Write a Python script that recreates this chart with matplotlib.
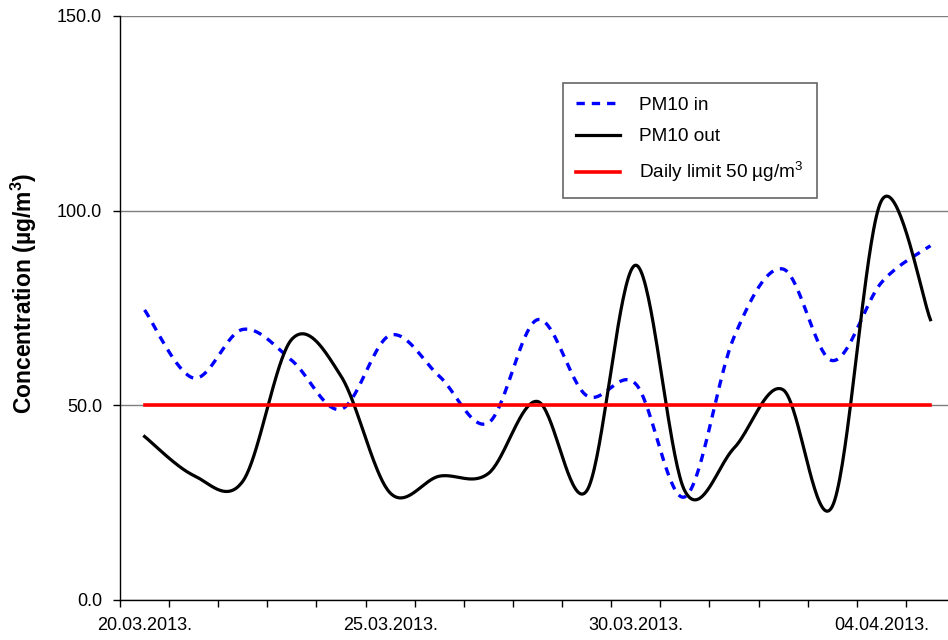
import numpy as np
import matplotlib
matplotlib.use("Agg")
import matplotlib.pyplot as plt
from matplotlib.ticker import FixedLocator, FixedFormatter, NullFormatter

plt.rcParams["font.family"] = ["Liberation Sans", "DejaVu Sans"]
plt.rcParams["mathtext.fontset"] = "custom"
plt.rcParams["mathtext.rm"] = "Liberation Sans"
plt.rcParams["mathtext.bf"] = "Liberation Sans:bold"
plt.rcParams["lines.scale_dashes"] = False

# Daily mean PM10 concentrations (µg/m3), 20.03.2013 - 05.04.2013
days = ["20.03.2013.", "21.03.2013.", "22.03.2013.", "23.03.2013.", "24.03.2013.",
        "25.03.2013.", "26.03.2013.", "27.03.2013.", "28.03.2013.", "29.03.2013.",
        "30.03.2013.", "31.03.2013.", "01.04.2013.", "02.04.2013.", "03.04.2013.",
        "04.04.2013.", "05.04.2013."]
pm10_in = [74.5, 57.0, 69.5, 61.5, 49.0, 68.0, 57.5, 45.5, 72.0, 52.5,
           55.5, 26.5, 67.5, 85.0, 61.5, 81.5, 91.0]
pm10_out = [42.0, 32.0, 30.5, 67.0, 57.5, 27.5, 31.8, 32.5, 51.0, 28.0,
            86.0, 28.0, 39.0, 54.0, 24.0, 102.5, 72.0]
daily_limit = [50.0] * len(days)
labelled_days = ["20.03.2013.", "25.03.2013.", "30.03.2013.", "04.04.2013."]


def smooth(xs, ys, n=40):
    """Smoothed line: cubic Bezier segments through every point, with
    control points taken from the neighbouring points (tension 1/6)."""
    pts = np.column_stack([xs, ys]).astype(float)
    ext = np.vstack([pts[0], pts, pts[-1]])
    t = np.linspace(0, 1, n)[1:, None]
    out = [pts[:1]]
    for i in range(len(pts) - 1):
        p0, p1, p2, p3 = ext[i], ext[i + 1], ext[i + 2], ext[i + 3]
        c1 = p1 + (p2 - p0) / 6.0
        c2 = p2 - (p3 - p1) / 6.0
        seg = ((1 - t) ** 3) * p1 + 3 * ((1 - t) ** 2) * t * c1 \
            + 3 * (1 - t) * (t ** 2) * c2 + (t ** 3) * p2
        out.append(seg)
    res = np.vstack(out)
    return res[:, 0], res[:, 1]


# categories sit between tick marks
xpos = np.arange(len(days)) + 0.5

fig = plt.figure(figsize=(9.48, 6.4), dpi=100)
ax = fig.add_axes([120 / 948, 40 / 640, 835 / 948, 584 / 640])

ax.yaxis.grid(True, color="#7f7f7f", lw=1.0, zorder=0)
ax.set_axisbelow(True)

sx, sy = smooth(xpos, pm10_in)
ax.plot(sx, sy, color="#0000ff", lw=2.4, linestyle=(0, (6.0, 5.0)),
        label="PM10 in", zorder=3)
sx, sy = smooth(xpos, pm10_out)
ax.plot(sx, sy, color="black", lw=2.3, label="PM10 out", zorder=4)
ax.plot(xpos, daily_limit, color="#ff0000", lw=2.6,
        label="Daily limit 50 µg/m$^{3}$", zorder=5)

ax.set_xlim(0, len(days))
ax.set_ylim(0, 150)

for side in ("top", "right"):
    ax.spines[side].set_visible(False)
for side in ("left", "bottom"):
    ax.spines[side].set_color("black")
    ax.spines[side].set_linewidth(1.0)

# day boundaries as tick marks, date labels centred under the days
ax.xaxis.set_major_locator(FixedLocator(np.arange(0, len(days) + 1)))
ax.xaxis.set_major_formatter(NullFormatter())
lab_pos = [days.index(d) + 0.5 for d in labelled_days]
ax.xaxis.set_minor_locator(FixedLocator(lab_pos))
ax.xaxis.set_minor_formatter(FixedFormatter(labelled_days))
ax.tick_params(axis="x", which="major", direction="out", length=5, width=1.0,
               color="black")
ax.tick_params(axis="x", which="minor", length=0, pad=12, labelsize=13)

ax.set_yticks([0, 50, 100, 150])
ax.set_yticklabels(["0.0", "50.0", "100.0", "150.0"])
ax.tick_params(axis="y", direction="out", length=5, width=1.0, pad=8,
               labelsize=13, color="black")

ax.set_ylabel("Concentration (µg/m$^{\\mathbf{3}}$)", fontsize=16.5,
              fontweight="bold")
ax.yaxis.set_label_coords((39 - 120) / 835, (600 - 293) / 584)

leg = ax.legend(loc="upper left", bbox_to_anchor=(563 / 948, 1 - 83 / 640),
                bbox_transform=fig.transFigure, fontsize=13.7, frameon=True,
                fancybox=False, shadow=False, borderaxespad=0,
                handlelength=2.3, handletextpad=1.0, labelspacing=0.75,
                borderpad=0.7)
leg.get_frame().set_edgecolor("#404040")
leg.get_frame().set_linewidth(1.2)

fig.savefig("out.png", dpi=100)
